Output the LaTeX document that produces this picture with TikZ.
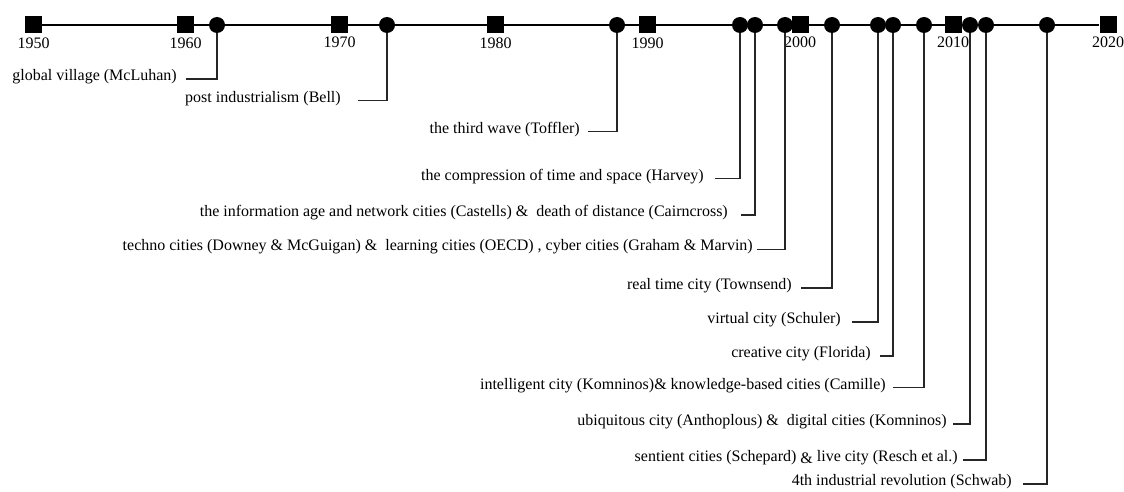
\documentclass[tikz,border=0pt]{standalone}
\usepackage{fontspec}
\setmainfont{Liberation Serif}
\begin{document}
\begin{tikzpicture}[x=0.75pt,y=-0.75pt]
 \tikzstyle{ynode}=[rectangle, inner sep = 0pt, minimum size = 12.75pt, fill]
 \tikzstyle{enode}=[circle, inner sep = 0pt, minimum size = 12pt, fill]
 \tikzstyle{ylabel}=[anchor=base, inner sep = 0pt, font=\fontsize{12}{14}\selectfont]
 \tikzstyle{elabel}=[anchor=base east, inner sep = 0pt, font=\fontsize{12}{14}\selectfont]
 \tikzstyle{conn}=[line width=0.8pt, color=black!85]
\useasboundingbox (0,0) rectangle (1124,492);
% decades
\draw (33.5,25) node[ynode] (y1950) {};
\draw (33.5,49) node[ylabel] {1950};
\draw (185.5,25) node[ynode] (y1960) {};
\draw (185.5,49) node[ylabel] {1960};
\draw (339.5,25) node[ynode] (y1970) {};
\draw (339.5,48) node[ylabel] {1970};
\draw (495.5,25) node[ynode] (y1980) {};
\draw (495.5,49) node[ylabel] {1980};
\draw (647.5,25) node[ynode] (y1990) {};
\draw (647.5,49) node[ylabel] {1990};
\draw (800,25) node[ynode] (y2000) {};
\draw (800,48) node[ylabel] {2000};
\draw (953,25) node[ynode] (y2010) {};
\draw (953,48) node[ylabel] {2010};
\draw (1108,25) node[ynode] (y2020) {};
\draw (1108,48) node[ylabel] {2020};
\draw[line width=1.7pt] (y1950) -- (y2020);
% events
\draw (217,25) node[enode] (e1) {};
\draw (387,25) node[enode] (e2) {};
\draw (617,25) node[enode] (e3) {};
\draw (740,25) node[enode] (e4) {};
\draw (755,25) node[enode] (e5) {};
\draw (785,25) node[enode] (e6) {};
\draw (832,25) node[enode] (e7) {};
\draw (878,25) node[enode] (e8) {};
\draw (893,25) node[enode] (e9) {};
\draw (924,25) node[enode] (e10) {};
\draw (970,25) node[enode] (e11) {};
\draw (986,25) node[enode] (e12) {};
\draw (1047,25) node[enode] (e13) {};
% labels
\draw (177,80) node[elabel] (l1) {global village (McLuhan)};
\coordinate (c1) at (186,79);
\draw (341,102.5) node[elabel] (l2) {post industrialism (Bell)};
\coordinate (c2) at (358,100.7);
\draw (580,133) node[elabel] (l3) {the third wave (Toffler)};
\coordinate (c3) at (588,131.7);
\draw (704,180) node[elabel] (l4) {the compression of time and space (Harvey)};
\coordinate (c4) at (715,178.3);
\draw (728,216.5) node[elabel] (l5) {the information age and network cities (Castells) \&\ \ death of distance (Cairncross)};
\coordinate (c5) at (741,215);
\draw (753,250.5) node[elabel] (l6) {techno cities (Downey \& McGuigan) \&\ \ learning cities (OECD) , cyber cities (Graham \& Marvin)};
\coordinate (c6) at (757,249.3);
\draw (792,289.5) node[elabel] (l7) {real time city (Townsend)};
\coordinate (c7) at (801,288);
\draw (841,323.5) node[elabel] (l8) {virtual city (Schuler)};
\coordinate (c8) at (852,322);
\draw (871,357.5) node[elabel] (l9) {creative city (Florida)};
\coordinate (c9) at (880,356);
\draw (886,389) node[elabel] (l10) {intelligent city (Komninos)\&\ knowledge-based cities (Camille)};
\coordinate (c10) at (893,387.7);
\draw (947,425.5) node[elabel] (l11) {ubiquitous city (Anthoplous) \&\ \ digital cities (Komninos)};
\coordinate (c11) at (953,424);
\draw (958,461.5) node[elabel] (l12) {sentient cities (Schepard) \raisebox{-1.5pt}{\&} live city (Resch et al.)};
\coordinate (c12) at (963,460);
\draw (1012,485.5) node[elabel] (l13) {4th industrial revolution (Schwab)};
\coordinate (c13) at (1023,484);
% connectors
\draw[conn] (c1) -| (e1);
\draw[conn] (c2) -| (e2);
\draw[conn] (c3) -| (e3);
\draw[conn] (c4) -| (e4);
\draw[conn] (c5) -| (e5);
\draw[conn] (c6) -| (e6);
\draw[conn] (c7) -| (e7);
\draw[conn] (c8) -| (e8);
\draw[conn] (c9) -| (e9);
\draw[conn] (c10) -| (e10);
\draw[conn] (c11) -| (e11);
\draw[conn] (c12) -| (e12);
\draw[conn] (c13) -| (e13);
\end{tikzpicture}
\end{document}
